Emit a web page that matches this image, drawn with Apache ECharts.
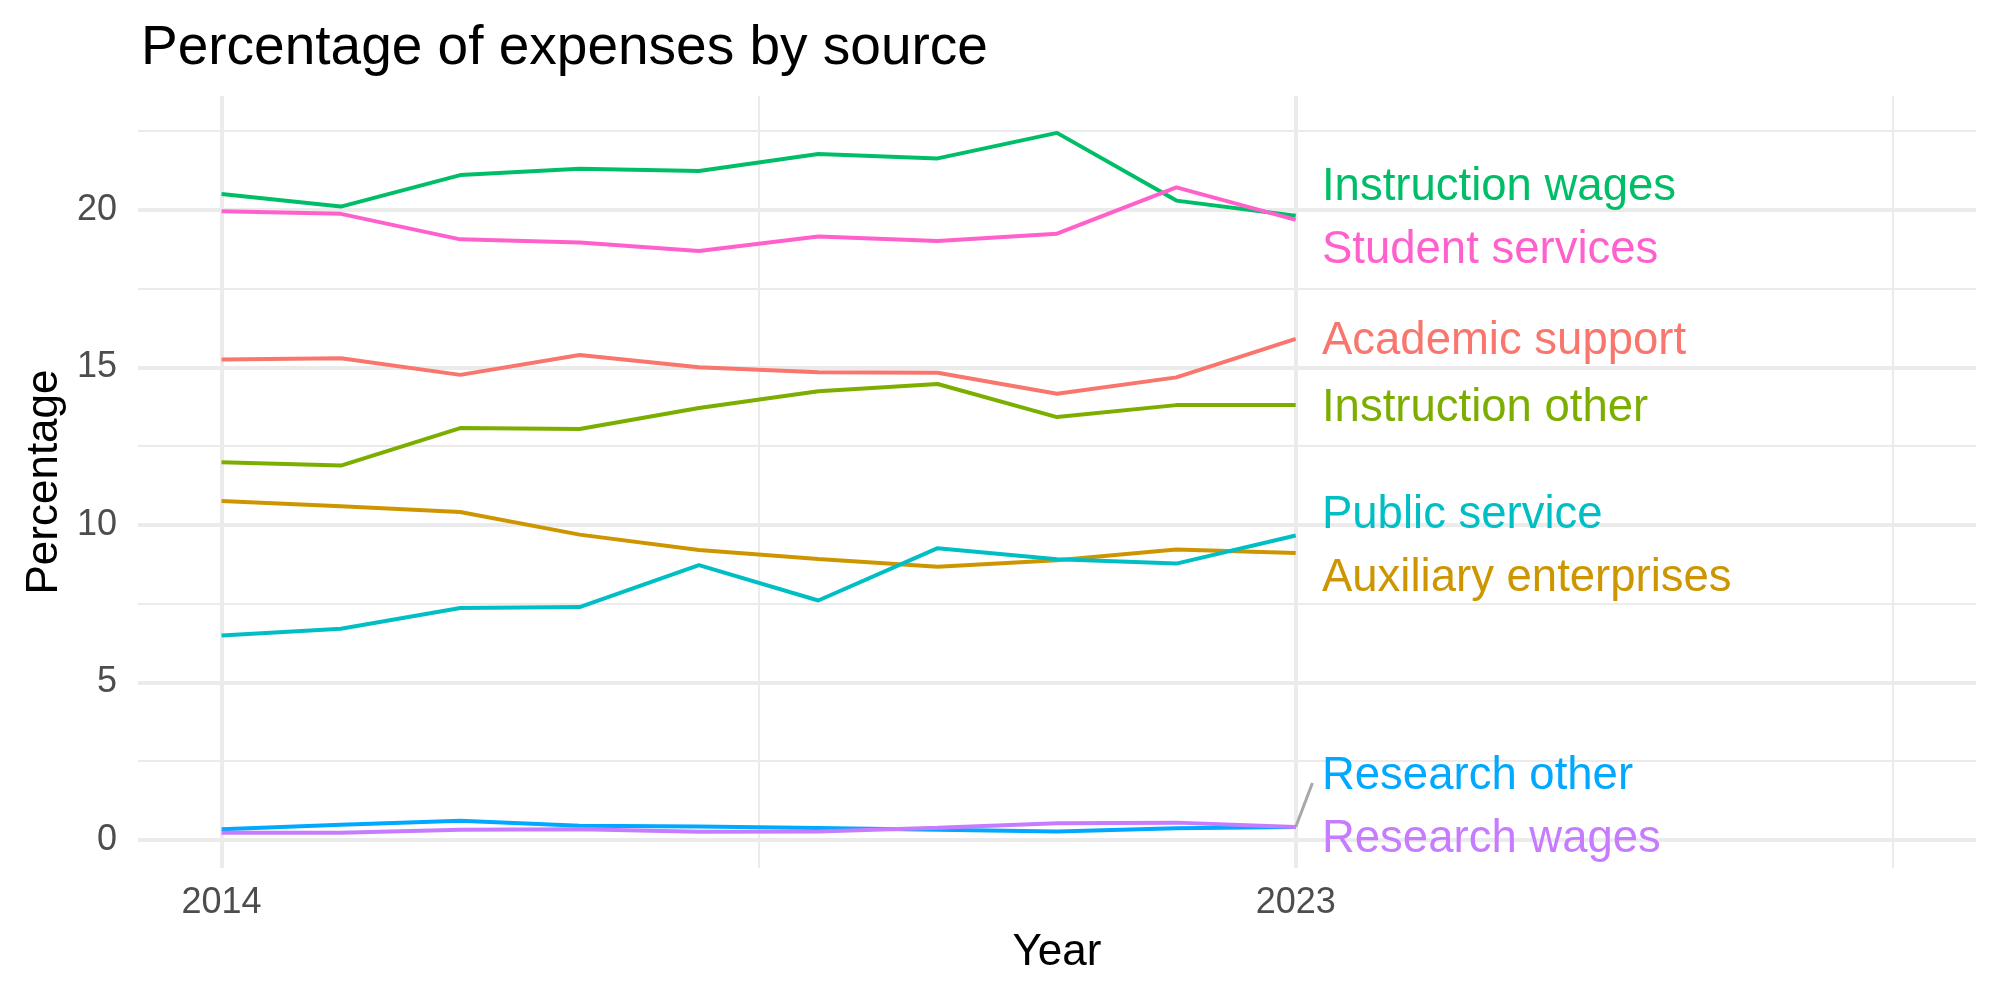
<!DOCTYPE html>
<html>
<head>
<meta charset="utf-8">
<title>Percentage of expenses by source</title>
<script src="https://cdn.jsdelivr.net/npm/echarts@6/dist/echarts.min.js"></script>
<style>
  html, body { margin: 0; padding: 0; background: #fff; }
  #chart { width: 2000px; height: 1000px; }
</style>
</head>
<body>
<div id="chart"></div>
<script>
// data
var years = [2014, 2015, 2016, 2017, 2018, 2019, 2020, 2021, 2022, 2023];
var academicSupport   = [15.25, 15.29, 14.76, 15.39, 15.00, 14.84, 14.83, 14.16, 14.68, 15.90];
var auxiliary         = [10.76, 10.59, 10.41, 9.69, 9.20, 8.92, 8.67, 8.88, 9.22, 9.11];
var instructionOther  = [11.99, 11.88, 13.07, 13.04, 13.71, 14.24, 14.47, 13.42, 13.80, 13.80];
var instructionWages  = [20.50, 20.10, 21.10, 21.30, 21.23, 21.77, 21.63, 22.44, 20.29, 19.81];
var publicService     = [6.49, 6.70, 7.36, 7.39, 8.72, 7.60, 9.26, 8.91, 8.77, 9.66];
var researchOther     = [0.34, 0.48, 0.61, 0.45, 0.43, 0.38, 0.32, 0.27, 0.37, 0.41];
var researchWages     = [0.23, 0.23, 0.32, 0.34, 0.26, 0.27, 0.39, 0.53, 0.55, 0.41];
var studentServices   = [19.95, 19.87, 19.06, 18.96, 18.69, 19.15, 19.01, 19.24, 20.71, 19.68];

var sourceNames = ['Academic support', 'Auxiliary enterprises', 'Instruction other', 'Instruction wages',
                   'Public service', 'Research other', 'Research wages', 'Student services'];
var sourceValues = [academicSupport, auxiliary, instructionOther, instructionWages,
                    publicService, researchOther, researchWages, studentServices];

// tick labels
var xTicks = [2014, 2023];
var yTicks = [0, 5, 10, 15, 20];

// where the repelled end labels sit (value units)
var labelX = 2023.22;
var labelY = [15.81, 8.31, 13.68, 20.70, 10.31, 2.03, 0.01, 18.71];
var leaderEnd = [2023.14, 1.81];

var colors = ['#F8766D', '#CD9600', '#7CAE00', '#00BE67', '#00BFC4', '#00A9FF', '#C77CFF', '#FF61CC'];
var FONT = 'Liberation Sans, Arial, sans-serif';

var chart = echarts.init(document.getElementById('chart'));

function pairs(vals) {
  return years.map(function (y, i) { return [y, vals[i]]; });
}

var series = [];

// background grid drawn with markLines so it follows the axes
series.push({
  type: 'line',
  data: [],
  silent: true,
  z: 1,
  markLine: {
    z: 1,
    silent: true,
    symbol: 'none',
    label: { show: false },
    animation: false,
    data: [
      { yAxis: 2.5, lineStyle: { width: 2 } },
      { yAxis: 7.5, lineStyle: { width: 2 } },
      { yAxis: 12.5, lineStyle: { width: 2 } },
      { yAxis: 17.5, lineStyle: { width: 2 } },
      { yAxis: 22.5, lineStyle: { width: 2 } },
      { xAxis: 2018.5, lineStyle: { width: 2 } },
      { xAxis: 2028, lineStyle: { width: 2 } },
      { yAxis: 0 }, { yAxis: 5 }, { yAxis: 10 }, { yAxis: 15 }, { yAxis: 20 },
      { xAxis: 2014 }, { xAxis: 2023 }
    ],
    lineStyle: { color: '#EBEBEB', width: 4, type: 'solid' }
  }
});

sourceNames.forEach(function (name, i) {
  series.push({
    name: name,
    type: 'line',
    data: pairs(sourceValues[i]),
    symbol: 'none',
    z: 3,
    lineStyle: { color: colors[i], width: 4 },
    itemStyle: { color: colors[i] }
  });
});

// leader segment for the crowded research labels
series.push({
  type: 'line',
  data: [[years[years.length - 1], researchOther[researchOther.length - 1]], leaderEnd],
  symbol: 'none',
  z: 2,
  lineStyle: { color: '#A8A8A8', width: 3 }
});

// end labels
series.push({
  type: 'scatter',
  symbolSize: 0,
  z: 10,
  itemStyle: { opacity: 1 },
  data: sourceNames.map(function (name, i) {
    return {
      value: [labelX, labelY[i]],
      name: name,
      label: { color: colors[i] }
    };
  }),
  label: {
    show: true,
    opacity: 1,
    position: 'right',
    distance: 0,
    formatter: '{b}',
    fontFamily: FONT,
    fontSize: 45.5,
    align: 'left',
    verticalAlign: 'middle'
  }
});

chart.setOption({
  animation: false,
  backgroundColor: '#ffffff',
  title: {
    text: 'Percentage of expenses by source',
    left: 141,
    top: 21,
    padding: 0,
    textStyle: { fontFamily: FONT, fontSize: 55, fontWeight: 'normal', color: '#000000' }
  },
  grid: { left: 138, right: 24, top: 96, bottom: 132, containLabel: false },
  xAxis: {
    type: 'value',
    min: 2013.3,
    max: 2028.7,
    axisLine: { show: false },
    axisTick: { show: false },
    splitLine: { show: false },
    axisLabel: {
      customValues: xTicks,
      formatter: function (v) { return String(v); },
      fontFamily: FONT,
      fontSize: 36,
      color: '#4D4D4D',
      margin: 17
    }
  },
  yAxis: {
    type: 'value',
    min: -0.89,
    max: 23.61,
    axisLine: { show: false },
    axisTick: { show: false },
    splitLine: { show: false },
    axisLabel: {
      customValues: yTicks,
      formatter: function (v) { return String(v); },
      fontFamily: FONT,
      fontSize: 36,
      color: '#4D4D4D',
      margin: 21
    }
  },
  graphic: [
    {
      type: 'text',
      x: 1057,
      y: 953,
      style: { text: 'Year', font: '44px ' + FONT, fill: '#000', textAlign: 'center', textVerticalAlign: 'middle' }
    },
    {
      type: 'text',
      x: 45,
      y: 482,
      rotation: Math.PI / 2,
      style: { text: 'Percentage', font: '44px ' + FONT, fill: '#000', textAlign: 'center', textVerticalAlign: 'middle' }
    }
  ],
  series: series
});
</script>
</body>
</html>
